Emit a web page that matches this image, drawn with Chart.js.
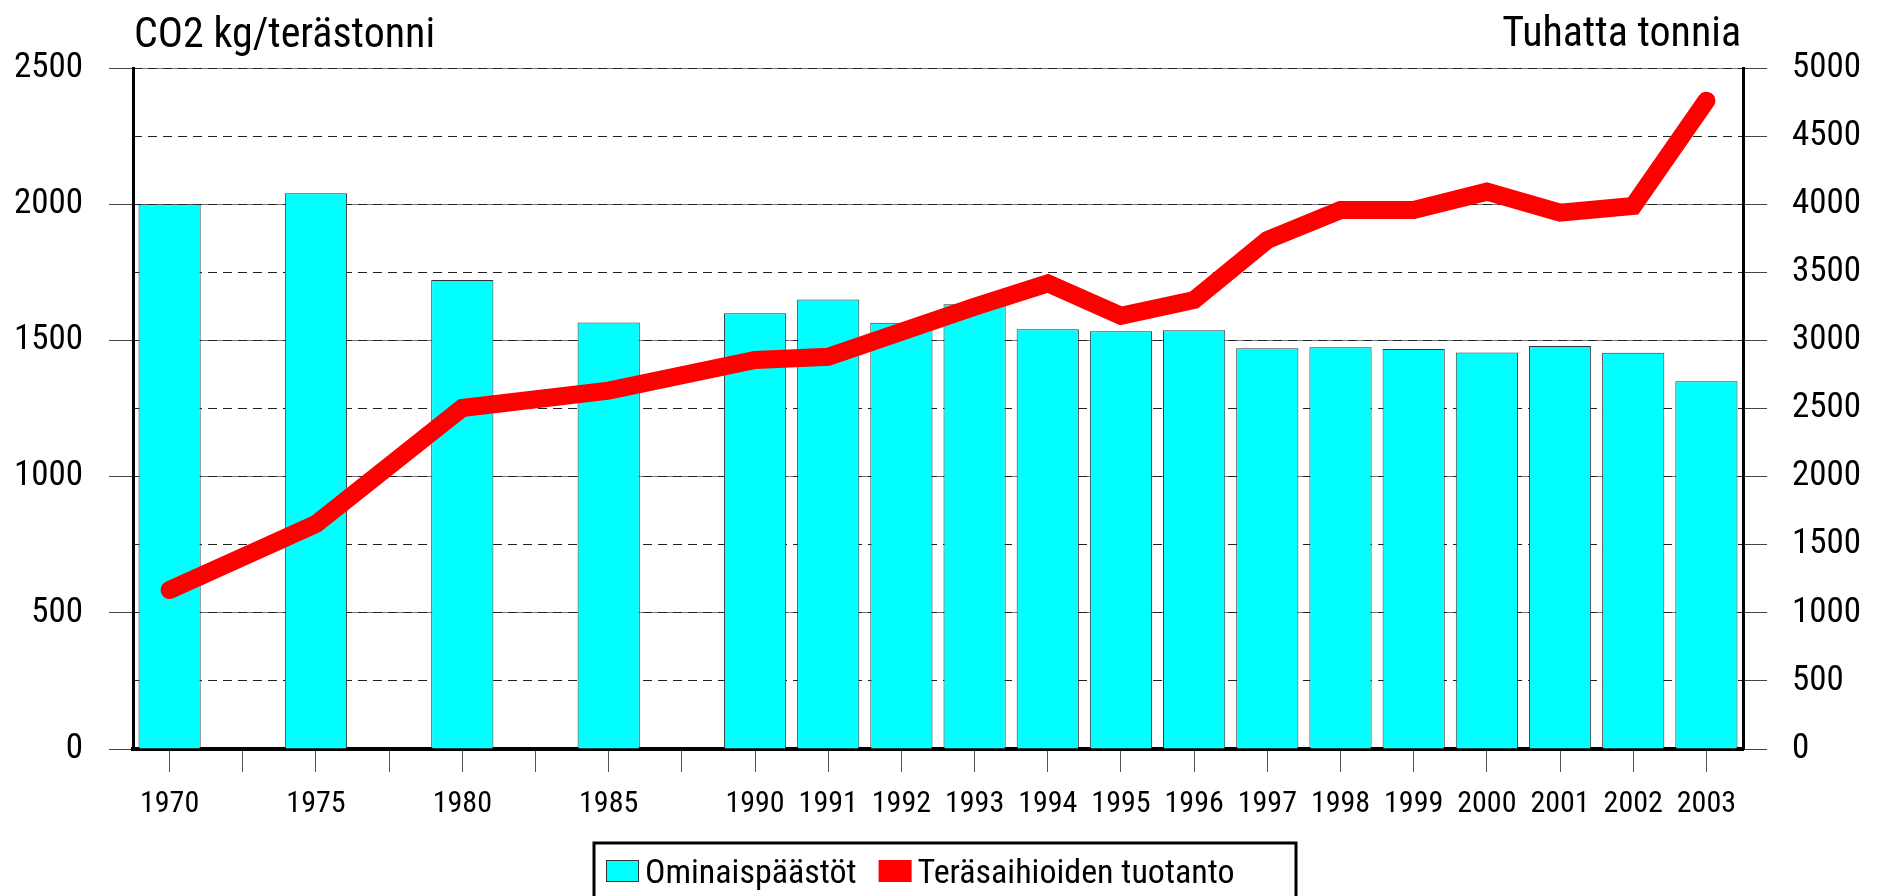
<!DOCTYPE html>
<html lang="fi">
<head>
<meta charset="utf-8">
<title>CO2 kg/terästonni</title>
<script src="https://cdn.jsdelivr.net/npm/chart.js@4.4.1/dist/chart.umd.min.js"></script>
<style>
  html, body { margin: 0; padding: 0; background: #fff; overflow: hidden; }
  #wrap { width: 1881px; height: 896px; }
</style>
</head>
<body>
<div id="wrap"><canvas id="co2Chart" width="1881" height="896"></canvas></div>
<script>
/* ============================================
   CO2-ominaispäästöt ja teräsaihioiden tuotanto
   ============================================ */

/* ---------- data (tyhjät paikat = välivuodet) ---------- */
var YEARS = ["1970", "", "1975", "", "1980", "", "1985", "",
  "1990", "1991", "1992", "1993", "1994", "1995", "1996",
  "1997", "1998", "1999", "2000", "2001", "2002", "2003"];

// CO2 kg / terästonni
var CO2_PER_TONNE = [2000, null, 2040, null, 1722, null, 1566, null,
  1600, 1650, 1565, 1633, 1541, 1534, 1537,
  1471, 1475, 1468, 1456, 1479, 1455, 1350];

// tuhatta tonnia
var PRODUCTION = [1167, null, 1652, null, 2504, null, 2631, null,
  2856, 2880, 3064, 3247, 3419, 3181, 3297,
  3737, 3957, 3957, 4092, 3938, 3987, 4760];

var LEFT_TITLE = "CO2 kg/terästonni";
var RIGHT_TITLE = "Tuhatta tonnia";
var SERIES_NAMES = ["Ominaispäästöt", "Teräsaihioiden tuotanto"];

var FONT = '"Roboto Condensed", "Liberation Sans Narrow", "DejaVu Sans Condensed", sans-serif';

Chart.defaults.font.family = FONT;
Chart.defaults.color = "#000";

function plainNumber(value) { return String(value); }

/* ---------- otsikot akselien yläpuolella ---------- */
var axisTitles = {
  id: "axisTitles",
  afterDraw: function (chart) {
    var ctx = chart.ctx;
    var area = chart.chartArea;
    ctx.save();
    ctx.font = "42px " + FONT;
    ctx.fillStyle = "#000";
    ctx.textBaseline = "alphabetic";
    ctx.textAlign = "left";
    ctx.fillText(LEFT_TITLE, area.left + 1, 47);
    ctx.textAlign = "right";
    ctx.fillText(RIGHT_TITLE, area.right - 2, 46);
    ctx.restore();
  }
};

/* ---------- selite kehyksineen ---------- */
var boxedLegend = {
  id: "boxedLegend",
  afterDraw: function (chart) {
    var ctx = chart.ctx;
    var bx = 594, by = 843, bw = 702, bh = 80;
    ctx.save();
    ctx.lineWidth = 3;
    ctx.strokeStyle = "#000";
    ctx.strokeRect(bx, by, bw, bh);
    ctx.font = "34px " + FONT;
    ctx.textBaseline = "alphabetic";
    ctx.textAlign = "left";
    var cx = bx + 12;
    chart.data.datasets.forEach(function (ds) {
      var isLine = ds.type === "line";
      ctx.fillStyle = isLine ? ds.borderColor : ds.backgroundColor;
      ctx.fillRect(cx, 860, 33, 22);
      if (!isLine) {
        ctx.lineWidth = 1;
        ctx.strokeStyle = "#333";
        ctx.strokeRect(cx + 0.5, 860.5, 32, 21);
      }
      ctx.fillStyle = "#000";
      ctx.fillText(ds.label, cx + 39, 883);
      cx += 39 + ctx.measureText(ds.label).width + 22;
    });
    ctx.restore();
  }
};

new Chart(document.getElementById("co2Chart"), {
  data: {
    labels: YEARS,
    datasets: [{
      type: "bar",
      label: SERIES_NAMES[0],
      data: CO2_PER_TONNE,
      yAxisID: "y",
      backgroundColor: "#00ffff",
      borderColor: "#333",
      borderWidth: 1,
      barPercentage: 0.85,
      categoryPercentage: 1,
      order: 2
    }, {
      type: "line",
      label: SERIES_NAMES[1],
      data: PRODUCTION,
      yAxisID: "y1",
      borderColor: "#ff0000",
      backgroundColor: "#ff0000",
      borderWidth: 18,
      borderCapStyle: "round",
      borderJoinStyle: "miter",
      pointRadius: 0,
      tension: 0,
      spanGaps: true,
      order: 1
    }]
  },
  options: {
    responsive: false,
    animation: false,
    devicePixelRatio: 1,
    layout: { padding: { top: 68, left: 0, right: 0, bottom: 0 } },
    plugins: {
      legend: { display: false },
      tooltip: { enabled: false }
    },
    scales: {
      x: {
        type: "category",
        offset: true,
        grid: {
          offset: false,
          drawOnChartArea: false,
          drawTicks: true,
          tickLength: 23,
          tickColor: "#555",
          tickWidth: 1
        },
        border: { color: "#000", width: 4 },
        ticks: {
          autoSkip: false,
          maxRotation: 0,
          minRotation: 0,
          padding: 14,
          font: { size: 30 }
        },
        afterFit: function (scale) { scale.height = 147; }
      },
      y: {
        position: "left",
        min: 0,
        max: 2500,
        ticks: { stepSize: 500, padding: 26, font: { size: 35 }, callback: plainNumber },
        grid: {
          color: "#777",
          lineWidth: 1,
          tickLength: 24,
          tickColor: "#444"
        },
        border: { color: "#000", width: 3 },
        afterFit: function (scale) { scale.width = 133; }
      },
      y1: {
        position: "right",
        min: 0,
        max: 5000,
        ticks: { stepSize: 500, padding: 25, font: { size: 35 }, callback: plainNumber },
        grid: {
          color: "#222",
          lineWidth: 1,
          tickLength: 24,
          tickColor: "#444",
          tickBorderDash: []
        },
        border: { color: "#000", width: 3, dash: [9, 6] },
        afterFit: function (scale) { scale.width = 138; }
      }
    }
  },
  plugins: [axisTitles, boxedLegend]
});
</script>
</body>
</html>
